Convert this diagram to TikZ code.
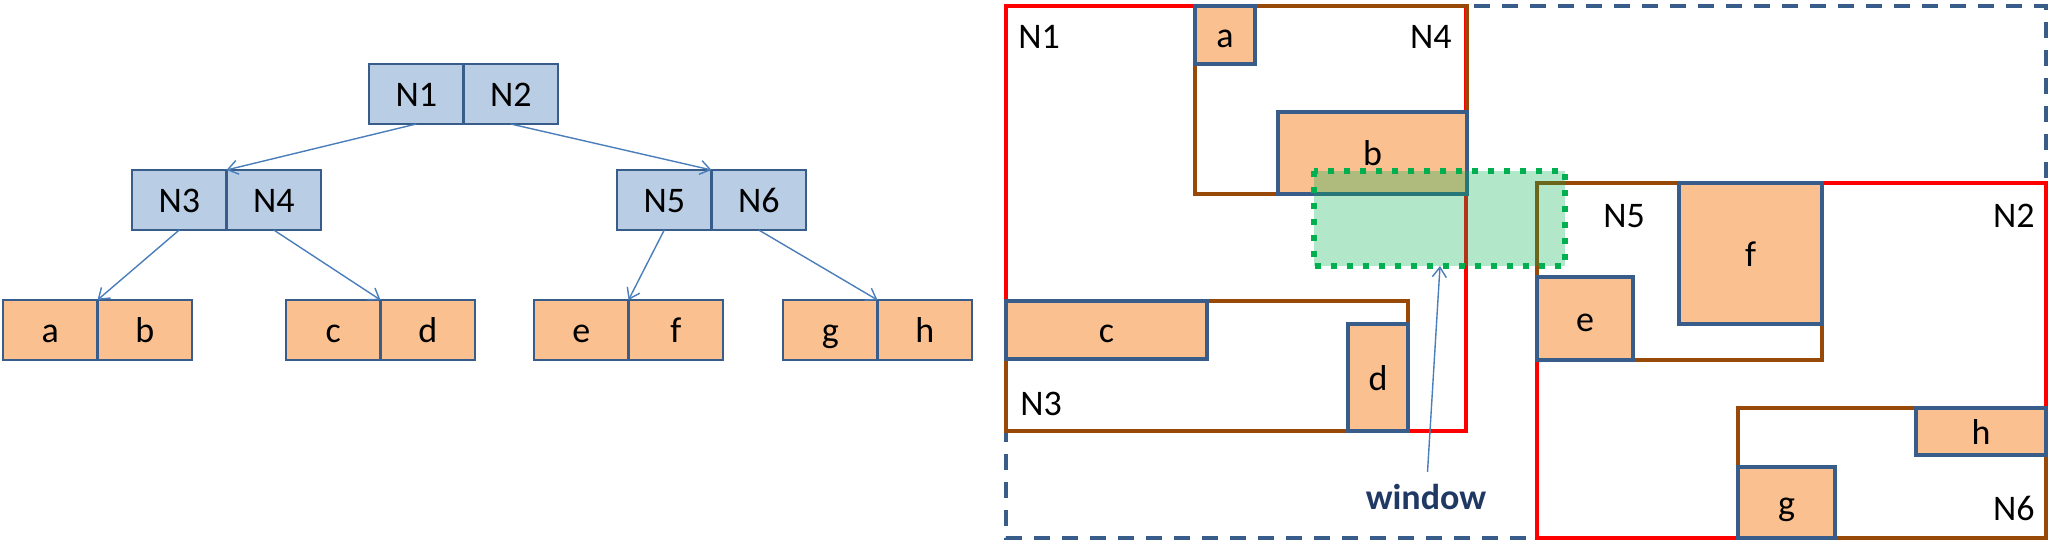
\documentclass[tikz,border=0pt]{standalone}
\usepackage{fontspec}
\setmainfont{Carlito}
\usepackage{xcolor}
\definecolor{cellblue}{RGB}{185,205,229}
\definecolor{leaforange}{RGB}{250,192,144}
\definecolor{edgeblue}{RGB}{56,93,138}
\definecolor{arrowblue}{RGB}{74,126,187}
\definecolor{mbrbrown}{RGB}{152,72,7}
\definecolor{wingreen}{RGB}{0,176,80}
\definecolor{winnavy}{RGB}{31,56,100}
\usetikzlibrary{arrows.meta}

\tikzset{
  innercell/.style={draw=edgeblue, fill=cellblue, line width=1.4pt, minimum width=47.25pt, minimum height=30pt,
    inner sep=0pt, outer sep=0pt, text height=12.5pt, text depth=0pt, font=\fontsize{18}{20}\selectfont},
  leafcell/.style={innercell, fill=leaforange},
  treearrow/.style={arrowblue, line width=0.7pt, -{Straight Barb[length=5pt, width=7pt]}},
  rootmbr/.style={draw=red, line width=1.7pt},
  nodembr/.style={draw=mbrbrown, line width=1.6pt},
  leafmbr/.style={draw=edgeblue, fill=leaforange, line width=1.7pt},
  dataspace/.style={draw=edgeblue, line width=1.6pt, dash pattern=on 8pt off 6pt},
  winbox/.style={draw=wingreen, fill=wingreen, fill opacity=0.3, draw opacity=1, line width=2.8pt, dash pattern=on 2.8pt off 5.2pt},
  mbrlabel/.style={inner sep=0pt, text height=12.5pt, text depth=0pt, font=\fontsize{18}{20}\selectfont},
}

\begin{document}
\begin{tikzpicture}[x=0.5pt, y=-0.5pt]
  \useasboundingbox (0,0) rectangle (2058,541);
  % tree
  \node[innercell, anchor=north west] (n1) at (369,64) {N1};
  \node[innercell, anchor=west] (n2) at (n1.east) {N2};
  \node[innercell, anchor=north west] (n3) at (132,170) {N3};
  \node[innercell, anchor=west] (n4) at (n3.east) {N4};
  \node[innercell, anchor=north west] (n5) at (617,170) {N5};
  \node[innercell, anchor=west] (n6) at (n5.east) {N6};
  \foreach \l/\r/\x in {a/b/3, c/d/286, e/f/534, g/h/783} {
    \node[leafcell, anchor=north west] (\l) at (\x,300) {\l};
    \node[leafcell, anchor=west] (\r) at (\l.east) {\r};
  }
  \draw[treearrow] (n1.south) -- (n3.north east);
  \draw[treearrow] (n2.south) -- (n5.north east);
  \draw[treearrow] (n3.south) -- (a.north east);
  \draw[treearrow] (n4.south) -- (c.north east);
  \draw[treearrow] (n5.south) -- (e.north east);
  \draw[treearrow] (n6.south) -- (g.north east);

  % data space
  \draw[dataspace] (1006,6) rectangle (2046,538);
  % root level
  \draw[rootmbr] (1006,6) rectangle (1466,431);
  \draw[rootmbr] (1537,183) rectangle (2046,538);
  % second level
  \draw[nodembr] (1195,6) rectangle (1467,194);
  \draw[nodembr] (1006,301) rectangle (1408,431);
  \draw[nodembr] (1537,183) rectangle (1822,360);
  \draw[nodembr] (1738,408) rectangle (2046,538);
  % leaves
  \foreach \t/\xa/\ya/\xb/\yb in {a/1195/6/1255/64, b/1278/112/1467/194, c/1006/301/1207/359,
      d/1348/324/1408/431, e/1537/277/1633/360, f/1679/183/1822/324, g/1738/467/1835/538, h/1916/408/2046/455} {
    \draw[leafmbr] (\xa,\ya) rectangle (\xb,\yb);
    \path (\xa,\ya) -- (\xb,\yb) node[midway, mbrlabel] (r\t) {\t};
  }
  % mbr names
  \node[mbrlabel, anchor=base west] (ln1) at (1018,48) {N1};
  \node[mbrlabel, anchor=base east] (ln4) at (1452,48) {N4};
  \node[mbrlabel, anchor=base west] (ln3) at (1020,415) {N3};
  \node[mbrlabel, anchor=base west] (ln5) at (1603,227) {N5};
  \node[mbrlabel, anchor=base east] (ln2) at (2035,227) {N2};
  \node[mbrlabel, anchor=base east] (ln6) at (2035,520) {N6};

  % query window
  \draw[winbox] (1314,171) rectangle (1565,266);
  \node[font=\bfseries\fontsize{18}{20}\selectfont, text=winnavy, inner sep=6pt] (wlabel) at (1426,497) {window};
  \coordinate (wtip) at (1440,266);
  \draw[treearrow] (wlabel) -- (wtip);
\end{tikzpicture}
\end{document}
